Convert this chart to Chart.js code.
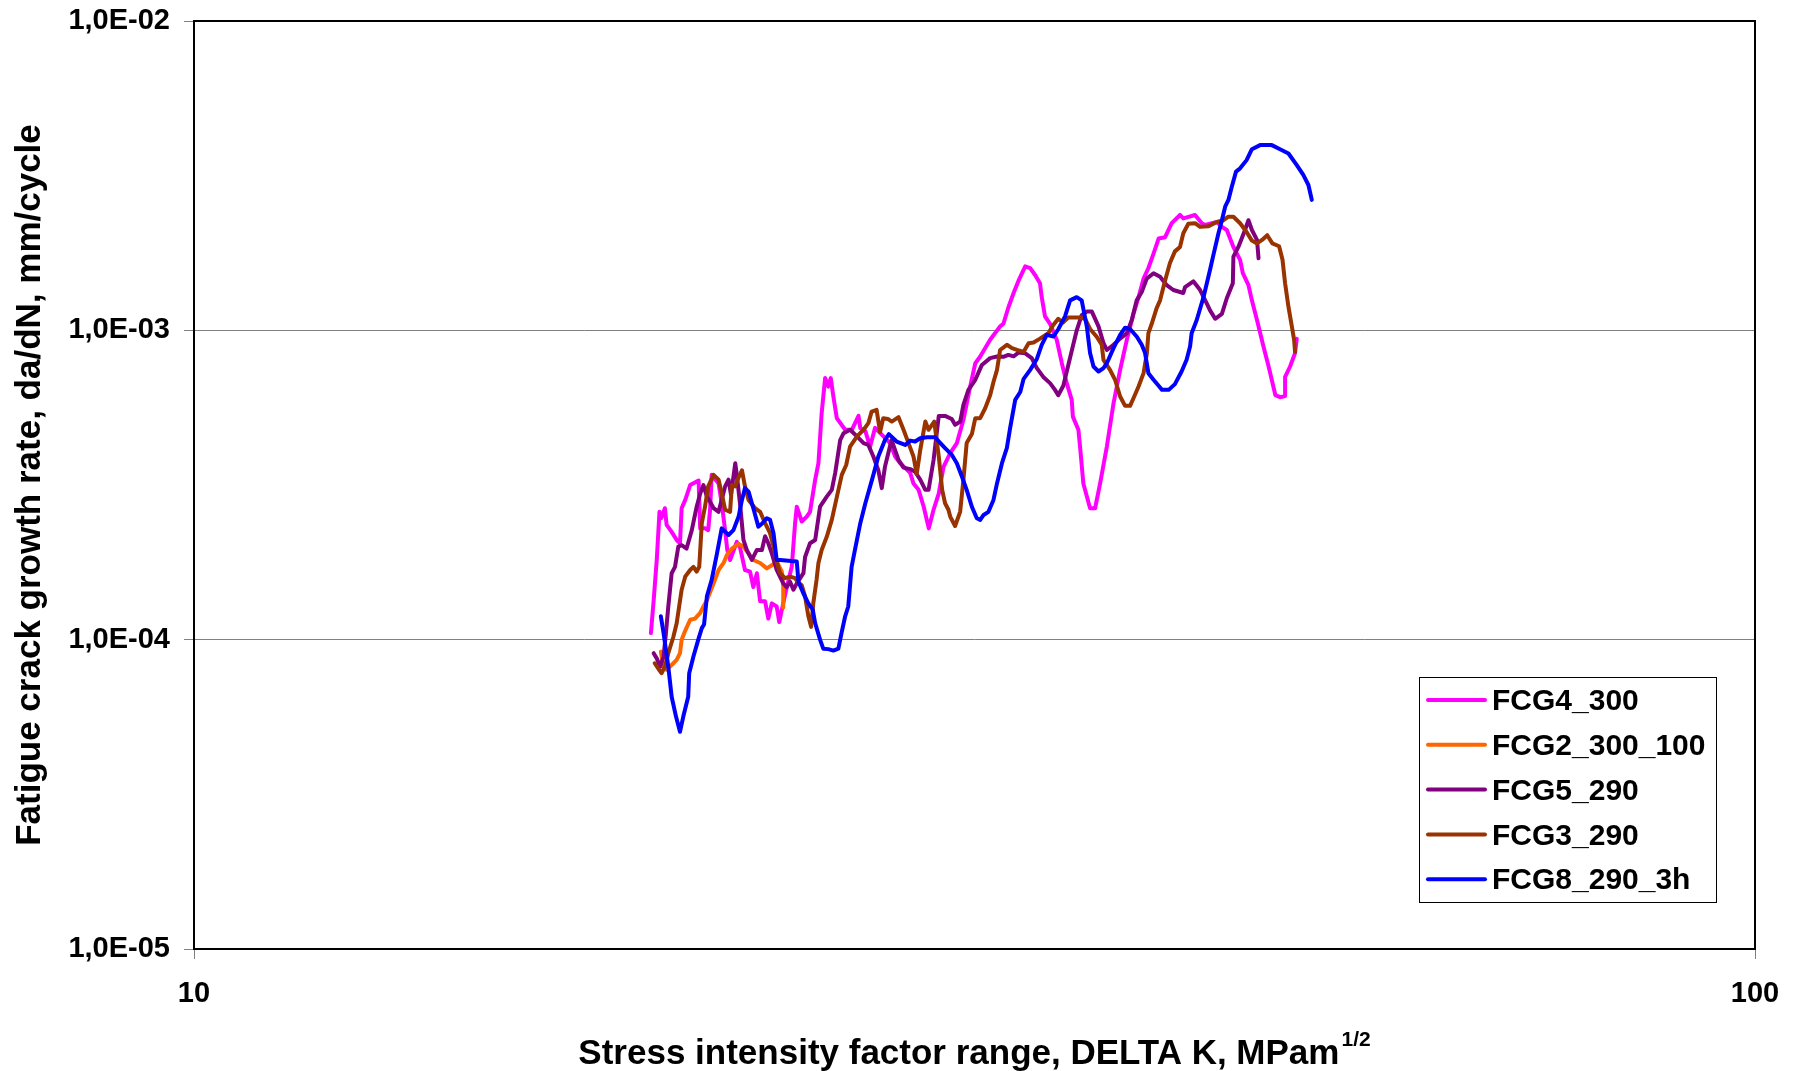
<!DOCTYPE html>
<html>
<head>
<meta charset="utf-8">
<title>Fatigue crack growth rate</title>
<style>
  html, body { margin: 0; padding: 0; background: #ffffff; }
  #wrap { width: 1797px; height: 1071px; }
  canvas { display: block; }
</style>
<script src="https://cdn.jsdelivr.net/npm/chart.js@4.4.1/dist/chart.umd.min.js"></script>
</head>
<body>
<div id="wrap"><canvas id="fcg" width="1797" height="1071"></canvas></div>
<script>
// Specimen names and line colours
const seriesNames  = ['FCG4_300', 'FCG2_300_100', 'FCG5_290', 'FCG3_290', 'FCG8_290_3h'];
const seriesColors = ['#FF00FF', '#FF6600', '#800080', '#993300', '#0000FF'];

// FCG4_300: delta K (MPa m^1/2) and da/dN (mm/cycle)
const fcg4K = [19.62,19.70,19.79,19.87,19.92,20.03,20.08,20.23,20.38,20.48,
  20.53,20.64,20.79,21.05,21.10,21.25,21.35,21.41,21.46,21.68,
  21.78,21.89,21.96,22.05,22.27,22.38,22.54,22.71,22.82,22.94,
  23.05,23.22,23.33,23.45,23.62,23.71,23.80,23.97,24.15,24.27,
  24.33,24.51,24.69,24.81,25.00,25.12,25.24,25.37,25.49,25.58,
  25.68,25.81,26.13,26.39,26.65,26.72,26.92,27.11,27.31,27.51,
  27.92,28.13,28.34,28.76,28.90,29.12,29.34,29.56,29.77,30.00,
  30.21,30.51,30.81,31.11,31.42,31.66,31.89,32.36,32.84,33.00,
  33.25,33.50,33.75,34.08,34.33,34.58,34.83,34.92,35.09,35.35,
  35.70,35.97,36.23,36.50,36.56,36.86,36.95,37.13,37.50,37.78,
  38.06,38.44,38.82,39.20,39.59,39.98,40.28,40.58,40.87,41.18,
  41.49,41.89,42.30,42.82,43.03,43.78,44.22,44.44,45.21,45.55,
  45.88,46.33,46.79,46.98,47.37,47.61,47.97,48.43,48.80,49.29,
  49.63,50.00,50.00,50.37,50.74,50.87];
const fcg4Rate = [1.05e-4,1.34e-4,1.81e-4,2.59e-4,2.47e-4,2.66e-4,2.35e-4,2.23e-4,2.10e-4,2.05e-4,
  2.66e-4,2.83e-4,3.16e-4,3.27e-4,2.29e-4,2.29e-4,2.26e-4,2.63e-4,3.41e-4,3.20e-4,
  2.76e-4,2.26e-4,1.95e-4,1.81e-4,2.07e-4,1.98e-4,1.68e-4,1.66e-4,1.48e-4,1.64e-4,
  1.33e-4,1.33e-4,1.17e-4,1.31e-4,1.28e-4,1.14e-4,1.25e-4,1.47e-4,1.72e-4,2.38e-4,
  2.69e-4,2.41e-4,2.50e-4,2.59e-4,3.29e-4,3.72e-4,5.40e-4,7.01e-4,6.58e-4,7.01e-4,
  6.11e-4,5.20e-4,4.77e-4,4.77e-4,5.29e-4,4.83e-4,4.72e-4,4.21e-4,4.84e-4,4.66e-4,
  4.32e-4,3.91e-4,3.72e-4,3.46e-4,3.20e-4,3.05e-4,2.69e-4,2.29e-4,2.63e-4,2.97e-4,
  3.62e-4,4.01e-4,4.32e-4,5.14e-4,6.58e-4,7.83e-4,8.23e-4,9.32e-4,1.03e-3,1.05e-3,
  1.19e-3,1.32e-3,1.45e-3,1.61e-3,1.59e-3,1.51e-3,1.42e-3,1.28e-3,1.11e-3,1.05e-3,
  9.32e-4,7.83e-4,6.75e-4,5.96e-4,5.26e-4,4.77e-4,4.21e-4,3.20e-4,2.66e-4,2.66e-4,
  3.20e-4,4.21e-4,5.81e-4,7.45e-4,9.32e-4,1.13e-3,1.28e-3,1.47e-3,1.59e-3,1.77e-3,
  1.98e-3,2.00e-3,2.22e-3,2.36e-3,2.30e-3,2.36e-3,2.22e-3,2.19e-3,2.24e-3,2.16e-3,
  2.11e-3,1.86e-3,1.69e-3,1.53e-3,1.40e-3,1.25e-3,1.08e-3,8.86e-4,7.64e-4,6.17e-4,
  6.08e-4,6.13e-4,7.07e-4,7.64e-4,8.44e-4,9.40e-4];

// FCG2_300_100
const fcg2K = [19.91,19.99,20.08,20.28,20.38,20.48,20.53,20.64,20.79,20.94,
  21.10,21.20,21.31,21.52,21.68,21.84,21.95,22.11,22.33,22.49,
  22.66,22.82,23.05,23.28,23.45,23.62,23.80,23.85,23.85];
const fcg2Rate = [9.15e-5,8.10e-5,7.99e-5,8.39e-5,8.60e-5,9.04e-5,1.00e-4,1.07e-4,1.16e-4,1.17e-4,
  1.22e-4,1.28e-4,1.34e-4,1.52e-4,1.68e-4,1.77e-4,1.88e-4,1.97e-4,2.04e-4,2.00e-4,
  1.90e-4,1.81e-4,1.77e-4,1.70e-4,1.74e-4,1.79e-4,1.66e-4,1.48e-4,1.27e-4];

// FCG5_290
const fcg5K = [19.70,19.79,19.89,19.99,20.06,20.13,20.23,20.33,20.43,20.53,
  20.68,20.84,20.99,21.10,21.20,21.31,21.41,21.52,21.68,21.89,
  22.00,22.08,22.22,22.27,22.38,22.49,22.60,22.77,22.94,23.11,
  23.22,23.33,23.45,23.62,23.85,23.97,24.09,24.21,24.33,24.57,
  24.63,24.81,25.00,25.18,25.43,25.62,25.75,25.94,26.07,26.32,
  26.59,26.85,27.04,27.24,27.44,27.58,27.71,27.98,28.27,28.48,
  28.76,28.97,29.19,29.41,29.55,29.77,30.00,30.28,30.58,30.73,
  30.96,31.11,31.34,31.66,31.97,32.36,32.69,33.00,33.24,33.50,
  33.75,34.08,34.41,34.66,35.00,35.35,35.61,35.78,36.05,36.41,
  36.77,37.04,37.32,37.60,37.97,38.25,38.44,38.82,39.20,39.59,
  39.88,40.17,40.47,40.77,41.18,41.58,41.99,42.40,43.03,43.14,
  43.67,44.11,44.55,44.76,45.10,45.55,45.88,46.29,46.33,46.67,
  47.13,47.37,47.61,47.97,48.08];
const fcg5Rate = [9.04e-5,8.70e-5,8.18e-5,8.82e-5,1.05e-4,1.28e-4,1.64e-4,1.72e-4,2.00e-4,2.02e-4,
  1.97e-4,2.26e-4,2.69e-4,2.97e-4,3.16e-4,2.90e-4,2.79e-4,2.66e-4,2.59e-4,3.13e-4,
  3.29e-4,2.94e-4,3.72e-4,3.41e-4,2.73e-4,2.10e-4,1.95e-4,1.81e-4,1.95e-4,1.95e-4,
  2.16e-4,2.05e-4,1.90e-4,1.68e-4,1.52e-4,1.48e-4,1.54e-4,1.45e-4,1.52e-4,1.64e-4,
  1.85e-4,2.05e-4,2.10e-4,2.69e-4,2.90e-4,3.05e-4,3.46e-4,4.42e-4,4.65e-4,4.77e-4,
  4.54e-4,4.32e-4,4.26e-4,3.91e-4,3.53e-4,3.09e-4,3.62e-4,4.42e-4,3.81e-4,3.60e-4,
  3.56e-4,3.49e-4,3.29e-4,3.05e-4,3.05e-4,3.81e-4,5.29e-4,5.29e-4,5.17e-4,4.95e-4,
  5.06e-4,5.74e-4,6.42e-4,6.92e-4,7.73e-4,8.13e-4,8.23e-4,8.21e-4,8.33e-4,8.24e-4,
  8.48e-4,8.43e-4,8.13e-4,7.56e-4,7.07e-4,6.75e-4,6.42e-4,6.17e-4,6.62e-4,8.15e-4,
  1.00e-3,1.12e-3,1.15e-3,1.15e-3,1.03e-3,9.09e-4,8.64e-4,8.98e-4,9.40e-4,9.79e-4,
  1.08e-3,1.25e-3,1.33e-3,1.47e-3,1.53e-3,1.49e-3,1.40e-3,1.35e-3,1.32e-3,1.38e-3,
  1.44e-3,1.35e-3,1.22e-3,1.16e-3,1.09e-3,1.13e-3,1.27e-3,1.42e-3,1.73e-3,1.86e-3,
  2.11e-3,2.27e-3,2.11e-3,1.96e-3,1.71e-3];

// FCG3_290
const fcg3K = [19.73,19.86,19.93,20.03,20.13,20.28,20.38,20.53,20.64,20.79,
  20.89,20.99,21.07,21.15,21.25,21.35,21.52,21.68,21.78,21.89,
  22.05,22.11,22.22,22.32,22.44,22.54,22.66,22.88,23.05,23.22,
  23.39,23.51,23.62,23.74,23.91,24.09,24.27,24.39,24.51,24.63,
  24.75,24.85,24.93,25.05,25.12,25.24,25.43,25.62,25.81,26.00,
  26.17,26.32,26.59,26.85,27.04,27.17,27.37,27.51,27.64,27.83,
  27.99,28.27,28.48,28.69,28.90,29.04,29.19,29.41,29.55,29.80,
  30.00,30.15,30.28,30.43,30.51,30.73,30.96,31.11,31.26,31.50,
  31.66,31.89,32.13,32.36,32.52,32.69,32.84,33.17,33.42,33.67,
  34.00,34.25,34.50,34.83,35.26,35.52,35.78,36.03,36.31,36.95,
  37.22,37.50,37.87,38.15,38.25,38.62,38.91,39.20,39.49,39.78,
  39.98,40.28,40.58,40.78,40.87,41.07,41.37,41.58,41.89,42.19,
  42.50,42.82,43.03,43.35,43.78,44.11,44.66,45.21,45.66,45.99,
  46.33,46.79,47.24,47.61,47.97,48.33,48.70,49.07,49.56,49.81,
  50.00,50.25,50.50,50.67,50.74];
const fcg3Rate = [8.39e-5,7.99e-5,7.79e-5,8.18e-5,9.04e-5,1.02e-4,1.13e-4,1.45e-4,1.60e-4,1.68e-4,
  1.72e-4,1.66e-4,1.72e-4,2.38e-4,2.69e-4,3.13e-4,3.41e-4,3.29e-4,2.97e-4,2.63e-4,
  2.59e-4,3.16e-4,3.13e-4,3.33e-4,3.53e-4,3.13e-4,2.83e-4,2.66e-4,2.59e-4,2.38e-4,
  2.21e-4,2.00e-4,1.79e-4,1.64e-4,1.58e-4,1.60e-4,1.58e-4,1.53e-4,1.50e-4,1.38e-4,
  1.19e-4,1.10e-4,1.31e-4,1.56e-4,1.77e-4,1.95e-4,2.15e-4,2.44e-4,2.89e-4,3.41e-4,
  3.67e-4,4.21e-4,4.54e-4,4.77e-4,5.01e-4,5.46e-4,5.53e-4,4.69e-4,5.20e-4,5.17e-4,
  5.07e-4,5.24e-4,4.77e-4,4.32e-4,3.91e-4,3.43e-4,4.10e-4,5.07e-4,4.77e-4,5.07e-4,
  3.91e-4,3.05e-4,2.76e-4,2.63e-4,2.50e-4,2.33e-4,2.59e-4,3.29e-4,4.32e-4,4.62e-4,
  5.20e-4,5.20e-4,5.61e-4,6.17e-4,6.81e-4,7.45e-4,8.64e-4,8.98e-4,8.76e-4,8.64e-4,
  8.52e-4,9.09e-4,9.13e-4,9.40e-4,9.79e-4,1.04e-3,1.09e-3,1.06e-3,1.10e-3,1.10e-3,
  1.09e-3,1.01e-3,9.53e-4,8.98e-4,8.03e-4,7.45e-4,6.92e-4,6.11e-4,5.70e-4,5.70e-4,
  6.03e-4,6.58e-4,7.27e-4,8.44e-4,9.79e-4,1.05e-3,1.18e-3,1.25e-3,1.45e-3,1.65e-3,
  1.80e-3,1.86e-3,2.06e-3,2.21e-3,2.22e-3,2.16e-3,2.17e-3,2.24e-3,2.27e-3,2.33e-3,
  2.33e-3,2.22e-3,2.08e-3,1.95e-3,1.91e-3,1.96e-3,2.03e-3,1.91e-3,1.87e-3,1.69e-3,
  1.42e-3,1.19e-3,1.03e-3,9.32e-4,8.52e-4];

// FCG8_290_3h
const fcg8K = [19.91,19.99,20.13,20.23,20.36,20.48,20.58,20.73,20.76,20.89,
  21.04,21.15,21.22,21.31,21.46,21.62,21.78,22.00,22.16,22.33,
  22.44,22.54,22.66,22.82,22.99,23.11,23.28,23.39,23.51,23.62,
  23.74,24.03,24.33,24.39,24.57,24.75,24.91,25.00,25.18,25.30,
  25.49,25.68,25.87,25.99,26.13,26.25,26.38,26.51,26.72,26.92,
  27.11,27.24,27.44,27.71,27.87,28.19,28.55,28.76,28.97,29.19,
  29.48,29.84,30.06,30.28,30.58,30.81,31.04,31.26,31.50,31.73,
  31.89,32.05,32.28,32.52,32.69,32.93,33.17,33.33,33.58,33.83,
  34.00,34.33,34.67,34.92,35.18,35.53,35.79,36.14,36.41,36.77,
  37.04,37.32,37.50,37.69,37.97,38.25,38.44,38.82,39.20,39.49,
  39.78,40.18,40.47,40.67,40.87,41.18,41.49,41.70,42.11,42.50,
  42.92,43.24,43.46,43.56,43.89,44.33,44.76,44.98,45.32,45.55,
  45.77,45.99,46.22,46.51,46.79,47.24,47.61,48.19,49.03,49.63,
  50.25,50.87,51.36,51.75,52.01];
const fcg8Rate = [1.19e-4,1.05e-4,8.18e-5,6.54e-5,5.64e-5,5.04e-5,5.64e-5,6.54e-5,7.79e-5,8.82e-5,
  1.00e-4,1.09e-4,1.12e-4,1.38e-4,1.56e-4,1.88e-4,2.29e-4,2.18e-4,2.26e-4,2.50e-4,
  2.83e-4,3.09e-4,3.01e-4,2.66e-4,2.32e-4,2.37e-4,2.47e-4,2.44e-4,2.21e-4,1.81e-4,
  1.81e-4,1.80e-4,1.79e-4,1.54e-4,1.41e-4,1.31e-4,1.25e-4,1.13e-4,1.00e-4,9.35e-5,
  9.32e-5,9.22e-5,9.35e-5,1.05e-4,1.19e-4,1.28e-4,1.72e-4,1.95e-4,2.38e-4,2.76e-4,
  3.13e-4,3.41e-4,3.91e-4,4.42e-4,4.62e-4,4.37e-4,4.26e-4,4.40e-4,4.37e-4,4.48e-4,
  4.51e-4,4.51e-4,4.33e-4,4.16e-4,3.96e-4,3.72e-4,3.37e-4,3.05e-4,2.69e-4,2.47e-4,
  2.44e-4,2.53e-4,2.59e-4,2.83e-4,3.20e-4,3.72e-4,4.17e-4,4.84e-4,5.96e-4,6.32e-4,
  6.97e-4,7.45e-4,8.08e-4,8.98e-4,9.67e-4,9.55e-4,1.01e-3,1.11e-3,1.25e-3,1.28e-3,
  1.25e-3,1.03e-3,8.44e-4,7.64e-4,7.36e-4,7.55e-4,7.83e-4,8.76e-4,9.67e-4,1.02e-3,
  1.01e-3,9.53e-4,8.98e-4,8.44e-4,7.27e-4,6.92e-4,6.62e-4,6.42e-4,6.42e-4,6.70e-4,
  7.36e-4,8.03e-4,8.86e-4,9.79e-4,1.08e-3,1.28e-3,1.57e-3,1.75e-3,2.06e-3,2.27e-3,
  2.51e-3,2.64e-3,2.91e-3,3.26e-3,3.34e-3,3.55e-3,3.85e-3,3.97e-3,3.97e-3,3.85e-3,
  3.73e-3,3.42e-3,3.18e-3,2.95e-3,2.64e-3];

// Axis ticks and titles
const xTickValues = [10, 100];
const xTickLabels = ['10', '100'];
const yTickValues = [1e-5, 1e-4, 1e-3, 1e-2];
const yTickLabels = ['1,0E-05', '1,0E-04', '1,0E-03', '1,0E-02'];
const xTitleMain = 'Stress intensity factor range, DELTA K, MPam';
const xTitleSup = '1/2';
const yTitle = 'Fatigue crack growth rate, da/dN, mm/cycle';

const FONT = '"Liberation Sans", Arial, Helvetica, sans-serif';
const seriesK = [fcg4K, fcg2K, fcg5K, fcg3K, fcg8K];
const seriesRate = [fcg4Rate, fcg2Rate, fcg5Rate, fcg3Rate, fcg8Rate];

const datasets = seriesNames.map((name, i) => ({
  label: name,
  data: seriesK[i].map((k, j) => ({ x: k, y: seriesRate[i][j] })),
  borderColor: seriesColors[i],
  backgroundColor: seriesColors[i],
  borderWidth: 4,
  pointRadius: 0,
  pointHoverRadius: 0,
  tension: 0,
  fill: false,
  borderJoinStyle: 'round',
  borderCapStyle: 'round',
  // later series are painted over earlier ones
  order: seriesNames.length - i
}));

// Black frame round the plot area
const plotFrame = {
  id: 'plotFrame',
  beforeDatasetsDraw(chart) {
    const { ctx, chartArea: a } = chart;
    ctx.save();
    ctx.strokeStyle = '#000000';
    ctx.lineWidth = 2;
    ctx.strokeRect(a.left, a.top, a.right - a.left, a.bottom - a.top);
    ctx.restore();
  }
};

// X axis title with the superscript exponent
const xAxisTitle = {
  id: 'xAxisTitle',
  afterDraw(chart) {
    const { ctx, chartArea: a } = chart;
    ctx.save();
    ctx.fillStyle = '#000000';
    ctx.textBaseline = 'alphabetic';
    ctx.textAlign = 'left';
    ctx.font = 'bold 35px ' + FONT;
    const w1 = ctx.measureText(xTitleMain).width;
    ctx.font = 'bold 21px ' + FONT;
    const w2 = ctx.measureText(xTitleSup).width;
    const x0 = (a.left + a.right) / 2 - (w1 + w2 + 2) / 2;
    const base = a.bottom + 115;
    ctx.font = 'bold 35px ' + FONT;
    ctx.fillText(xTitleMain, x0, base);
    ctx.font = 'bold 21px ' + FONT;
    ctx.fillText(xTitleSup, x0 + w1 + 2, base - 18);
    ctx.restore();
  }
};

// Boxed legend inside the plot, lower right
const boxLegend = {
  id: 'boxLegend',
  afterDraw(chart) {
    const { ctx, chartArea: a } = chart;
    const boxX = a.right - 336, boxY = a.top + 656, boxW = 297, boxH = 225;
    ctx.save();
    ctx.fillStyle = '#ffffff';
    ctx.fillRect(boxX, boxY, boxW, boxH);
    ctx.strokeStyle = '#000000';
    ctx.lineWidth = 1;
    ctx.strokeRect(boxX + 0.5, boxY + 0.5, boxW, boxH);
    ctx.font = 'bold 30px ' + FONT;
    ctx.textBaseline = 'middle';
    ctx.textAlign = 'left';
    chart.data.datasets.forEach((ds, i) => {
      const y = boxY + 23 + i * 44.8;
      ctx.strokeStyle = ds.borderColor;
      ctx.lineWidth = 4;
      ctx.lineCap = 'round';
      ctx.beginPath();
      ctx.moveTo(boxX + 9, y);
      ctx.lineTo(boxX + 66, y);
      ctx.stroke();
      ctx.fillStyle = '#000000';
      ctx.fillText(ds.label, boxX + 73, y + 2);
    });
    ctx.restore();
  }
};

new Chart(document.getElementById('fcg'), {
  type: 'line',
  data: { datasets },
  options: {
    responsive: false,
    animation: false,
    devicePixelRatio: 1,
    layout: { padding: { left: 0, right: 42, top: 21, bottom: 0 } },
    plugins: {
      legend: { display: false },
      tooltip: { enabled: false },
      title: { display: false }
    },
    scales: {
      x: {
        type: 'logarithmic',
        min: 10,
        max: 100,
        afterBuildTicks(scale) { scale.ticks = xTickValues.map(v => ({ value: v })); },
        afterFit(scale) { scale.height = 122; scale.paddingLeft = 0; scale.paddingRight = 0; },
        ticks: {
          callback: (v, idx) => xTickLabels[idx],
          font: { family: FONT, size: 29, weight: 'bold' },
          color: '#000000',
          padding: 18,
          maxRotation: 0,
          autoSkip: false
        },
        grid: { drawOnChartArea: false, drawTicks: true, tickLength: 10, color: '#808080', lineWidth: 1 },
        border: { display: false },
        title: { display: false }
      },
      y: {
        type: 'logarithmic',
        min: 1e-5,
        max: 1e-2,
        afterBuildTicks(scale) { scale.ticks = yTickValues.map(v => ({ value: v })); },
        afterFit(scale) { scale.width = 194; scale.paddingTop = 0; scale.paddingBottom = 0; },
        ticks: {
          callback: (v, idx) => yTickLabels[idx],
          font: { family: FONT, size: 29, weight: 'bold' },
          color: '#000000',
          padding: 14,
          autoSkip: false
        },
        grid: { drawOnChartArea: true, drawTicks: true, tickLength: 10, color: '#808080', lineWidth: 1 },
        border: { display: false },
        title: {
          display: true,
          text: yTitle,
          color: '#000000',
          font: { family: FONT, size: 35, weight: 'bold', lineHeight: 1 },
          padding: { top: 13, bottom: 0 }
        }
      }
    }
  },
  plugins: [plotFrame, xAxisTitle, boxLegend]
});
</script>
</body>
</html>
